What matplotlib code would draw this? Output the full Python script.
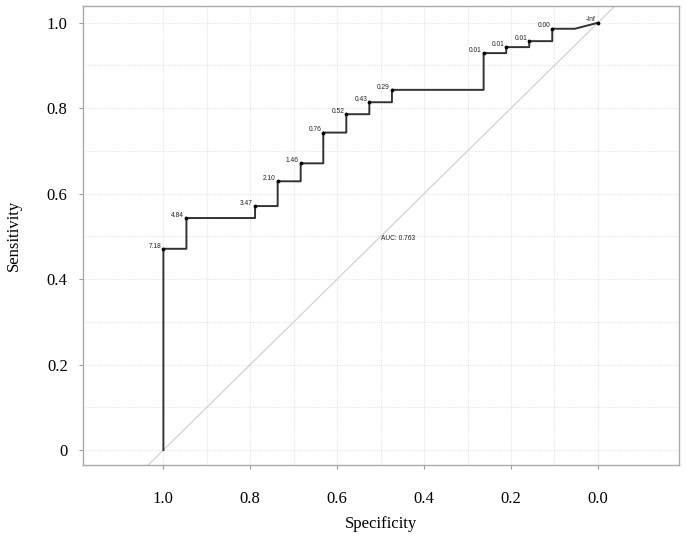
import numpy as np
import matplotlib
matplotlib.use("Agg")
import matplotlib.pyplot as plt
from matplotlib import font_manager

# ROC curve vertices (specificity, sensitivity)
spec = [1.000, 1.000, 0.947, 0.947, 0.789, 0.789, 0.737, 0.737, 0.684, 0.684,
        0.632, 0.632, 0.579, 0.579, 0.526, 0.526, 0.474, 0.474, 0.263, 0.263,
        0.211, 0.211, 0.158, 0.158, 0.105, 0.105, 0.053, 0.000]
sens = [0.000, 0.471, 0.471, 0.543, 0.543, 0.571, 0.571, 0.629, 0.629, 0.671,
        0.671, 0.743, 0.743, 0.786, 0.786, 0.814, 0.814, 0.843, 0.843, 0.929,
        0.929, 0.943, 0.943, 0.957, 0.957, 0.986, 0.986, 1.000]

# labelled thresholds
thr_spec = [1.000, 0.947, 0.789, 0.737, 0.684, 0.632, 0.579, 0.526, 0.474,
            0.263, 0.211, 0.158, 0.105, 0.000]
thr_sens = [0.471, 0.543, 0.571, 0.629, 0.671, 0.743, 0.786, 0.814, 0.843,
            0.929, 0.943, 0.957, 0.986, 1.000]
thr_labels = ["7.18", "4.84", "3.47", "2.10", "1.46", "0.76", "0.52", "0.43",
              "0.29", "0.01", "0.01", "0.01", "0.00", "-Inf"]

auc = 0.763

names = sorted({f.name for f in font_manager.fontManager.ttflist})
serif_name = "Liberation Serif" if "Liberation Serif" in names else "DejaVu Serif"
sans_name = "Liberation Sans" if "Liberation Sans" in names else "DejaVu Sans"
serif = [serif_name, "DejaVu Serif"]
sans = [sans_name, "DejaVu Sans"]

fig = plt.figure(figsize=(6.86, 5.41), dpi=100)
ax = fig.add_axes([0.121, 0.1405, 0.869, 0.849])

ax.set_xlim(1.185, -0.187)
ax.set_ylim(-0.035, 1.04)

# light dotted grid every 0.1
for v in np.arange(0, 1.01, 0.1):
    ax.axvline(v, color="#e6e6e6", lw=0.8, ls=(0, (1, 1)), zorder=0)
    ax.axhline(v, color="#e6e6e6", lw=0.8, ls=(0, (1, 1)), zorder=0)

ax.axline((1, 0), (0, 1), color="#d2d2d2", lw=0.9, zorder=1)

ax.plot(spec, sens, color="#333333", lw=1.4, zorder=3)
ax.scatter(thr_spec, thr_sens, s=3, color="black", zorder=4)
for x, y, t in zip(thr_spec, thr_sens, thr_labels):
    ax.annotate(t, (x, y), xytext=(-1.5, 2), textcoords="offset points",
                ha="right", va="center", fontsize=4.8, family=sans, color="#222222")

ax.text(0.5, 0.495, "AUC: %.3f" % auc, ha="left", va="center",
        fontsize=4.8, family=sans, color="#222222")

ticks = [1.0, 0.8, 0.6, 0.4, 0.2, 0.0]
ax.set_xticks(ticks)
ax.set_xticklabels(["%.1f" % t for t in ticks])
ax.set_yticks(ticks)
ax.set_yticklabels(["1.0", "0.8", "0.6", "0.4", "0.2", "0"])
for lab in ax.get_xticklabels() + ax.get_yticklabels():
    lab.set_fontfamily(serif)
    lab.set_fontsize(12)
ax.tick_params(axis="x", length=3, color="#999999", pad=16)
ax.tick_params(axis="y", length=3, color="#999999", pad=8)

for s in ax.spines.values():
    s.set_color("#aaaaaa")
    s.set_linewidth(1.0)

ax.set_xlabel("Specificity", fontfamily=serif, fontsize=12, labelpad=6)
ax.set_ylabel("Sensitivity", fontfamily=serif, fontsize=12, labelpad=18)

fig.savefig("out.png", dpi=100)
